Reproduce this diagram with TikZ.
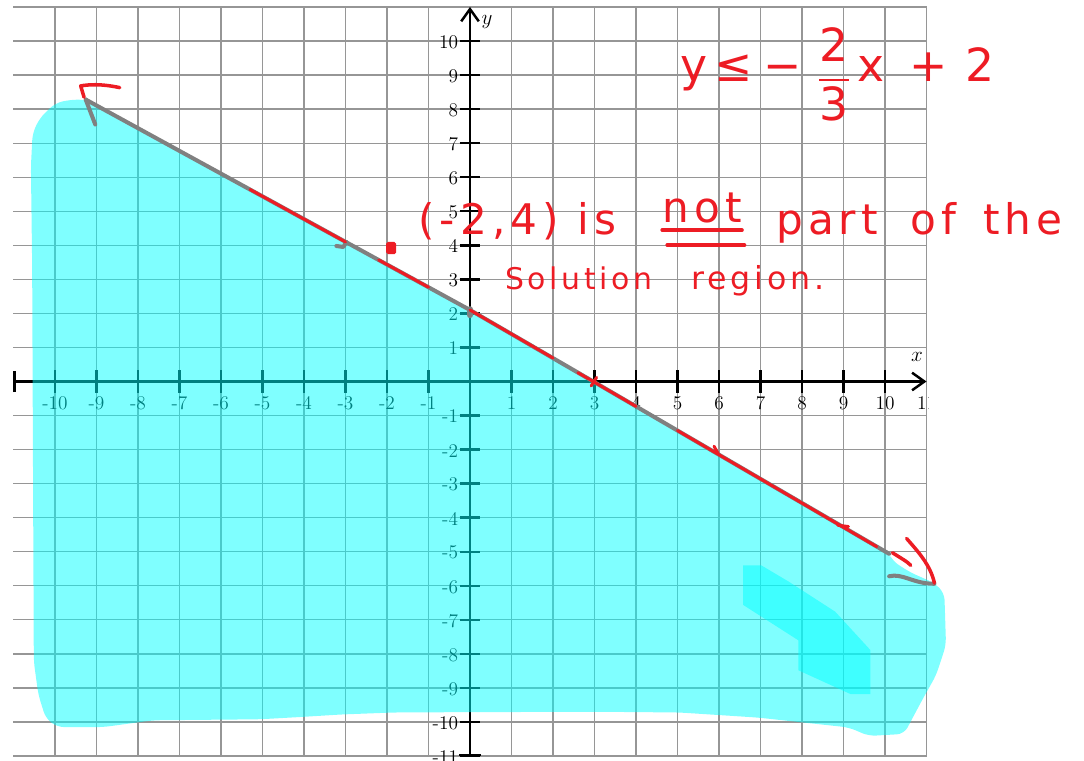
\documentclass[tikz,border=0pt]{standalone}
\usepackage{amsmath}
\usepackage{fontspec}
\usetikzlibrary{arrows.meta}
\newfontfamily\hand[LetterSpace=12]{DejaVu Sans}
\definecolor{penred}{RGB}{237,28,36}
\definecolor{pengrey}{RGB}{128,128,128}
\definecolor{gridgrey}{RGB}{150,150,150}
\definecolor{hilite}{RGB}{0,255,255}

\begin{document}
\begin{tikzpicture}[x=0.83cm, y=0.681cm,
  grd/.style={gridgrey, line width=0.7pt},
  axs/.style={line width=1.4pt},
  lab/.style={font=\fontsize{11}{12}\selectfont, inner sep=0.5pt},
  shd/.style={fill=hilite, fill opacity=0.5},
  gp/.style={pengrey, line width=2.3pt, line cap=round, line join=round},
  rp/.style={penred, line width=1.7pt, line cap=round, line join=round},
  hw/.style={text=penred, inner sep=0pt, anchor=base west, font=\hand\fontsize{24}{28}\selectfont}]
\useasboundingbox (-11.325,-11.116) rectangle (14.795,11.204);
\begin{scope}
\clip (-11.4,-11.4) rectangle (11.04,11.03);
\foreach \i in {-10,...,11} \draw[grd] (\i,-11) -- (\i,11);
\foreach \j in {-11,...,11} \draw[grd] (-11,\j) -- (11,\j);
\draw[axs, {Bar[width=12pt]}-{Straight Barb[length=7pt,width=10pt]}] (-11,0) -- (11,0);
\draw[axs, {Bar[width=12pt]}-{Straight Barb[length=7pt,width=10pt]}] (0,-11) -- (0,11);
\foreach \i in {-10,...,-1,1,2,...,10} {
  \draw[axs] (\i,-0.33) -- (\i,0.33);
  \node[lab, anchor=north] (xl\i) at (\i,-0.40) {\i};
}
\node[lab, anchor=north] (xl11) at (11,-0.40) {11};
\foreach \j in {-11,...,-1,1,2,...,10} {
  \draw[axs] (-0.25,\j) -- (0.25,\j);
  \node[lab, anchor=east] (yl\j) at (-0.26,\j-0.03) {\j};
}
\node[font=\fontsize{12}{14}\selectfont] (ylab) at (0.41,10.56) {$y$};
\node[font=\fontsize{12}{14}\selectfont] (xlab) at (10.77,0.72) {$x$};
\end{scope}
\fill[shd, rounded corners=4pt] (-9.26,8.28) -- (0,2.1) -- (2.9,0.05) -- (10.1,-5.06)
  -- (10.18,-5.27) -- (10.6,-5.6) -- (11.19,-5.92) -- (11.43,-6.21) -- (11.47,-7.74)
  -- (11.23,-8.63) -- (10.91,-9.32) -- (10.46,-10.35) -- (9.61,-10.41) -- (9.13,-10.16)
  -- (6.94,-9.87) -- (5.04,-9.72) -- (3.13,-9.70) -- (0,-9.71) -- (-1.83,-9.72)
  -- (-3.12,-9.78) -- (-4.04,-9.85) -- (-5.06,-9.92) -- (-7.64,-9.95) -- (-8.84,-10.15)
  -- (-9.94,-10.15) -- (-10.22,-9.9) -- (-10.40,-9.2) -- (-10.51,-8.23) -- (-10.55,3.4)
  -- (-10.58,6.31) -- (-10.54,7.29) -- (-10.37,7.73) -- (-10.0,8.17) -- (-9.67,8.27) -- cycle;
\fill[shd] (6.58,-5.40) -- (7.02,-5.40) -- (7.67,-5.87) -- (8.80,-6.76) -- (9.65,-7.89)
  -- (9.65,-9.18) -- (9.17,-9.18) -- (7.91,-8.48) -- (7.91,-7.60) -- (6.58,-6.56) -- cycle;
\draw[gp] (-9.26,8.28) -- (0,2.1) -- (2.9,0.05) -- (10.1,-5.06);
\draw[gp] (-9.26,8.28) -- (-9.03,7.55);
\draw[gp] (10.10,-5.72) .. controls (10.42,-5.62) and (10.7,-5.95) .. (11.19,-5.94);
\draw[gp] (-3.22,3.98) -- (-3.05,3.95) -- (-2.98,4.1);
\draw[gp, line width=3.5pt] (0,2.12) -- (0,1.95);
\draw[rp] (-5.3,5.64) -- (-3.0,4.10);
\draw[rp] (-2.2,3.57) -- (-1.0,2.77);
\draw[rp] (0,2.1) -- (2.0,0.69);
\draw[rp] (2.6,0.26) -- (2.9,0.05) -- (4.0,-0.73);
\draw[rp] (5.0,-1.44) -- (9.8,-4.85);
\draw[rp] (2.92,-0.13) -- (3.05,0.12);
\draw[rp] (5.88,-1.90) -- (5.98,-2.12);
\draw[rp] (8.86,-4.22) -- (9.12,-4.26);
\draw[rp, line width=2pt] (-8.44,8.63) .. controls (-8.9,8.75) and (-9.2,8.72) .. (-9.38,8.68) -- (-9.30,8.35);
\draw[rp, line width=2pt] (10.52,-4.61) .. controls (10.8,-5.0) and (11.1,-5.4) .. (11.19,-5.92);
\draw[rp, line width=2pt] (10.18,-5.03) .. controls (10.4,-5.2) and (10.55,-5.3) .. (10.62,-5.40);
\fill[penred, rounded corners=1pt] (-2.02,3.74) rectangle (-1.78,4.1);
\node[hw] (t1) at (-1.25,4.33) {(-2,4) is};
\node[hw] (t2) at (4.63,4.68) {not};
\node[hw] (t3) at (7.37,4.33) {part};
\node[hw] (t4) at (10.6,4.33) {of};
\node[hw] (t5) at (12.36,4.33) {the};
\draw[rp, line width=2pt] ([yshift=-0.16cm]t2.base west) -- ([yshift=-0.16cm]t2.base east);
\draw[rp, line width=2pt] ([xshift=0.1cm,yshift=-0.46cm]t2.base west) -- ([xshift=0.05cm,yshift=-0.46cm]t2.base east);
\node[hw, font=\hand\fontsize{17}{20}\selectfont] (t6) at (0.84,2.69) {Solution};
\node[hw, font=\hand\fontsize{18}{20}\selectfont] (t7) at (5.33,2.69) {region.};
\node[hw, font=\hand\fontsize{26}{30}\selectfont] (eq) at (5.06,8.80)
  {y\hspace{4pt}≤\hspace{6pt}−\hspace{9pt}\raisebox{-5pt}{$\dfrac{\mbox{2}}{\mbox{3}}$}\hspace{4pt}x\hspace{14pt}+\hspace{10pt}2};
\end{tikzpicture}
\end{document}
